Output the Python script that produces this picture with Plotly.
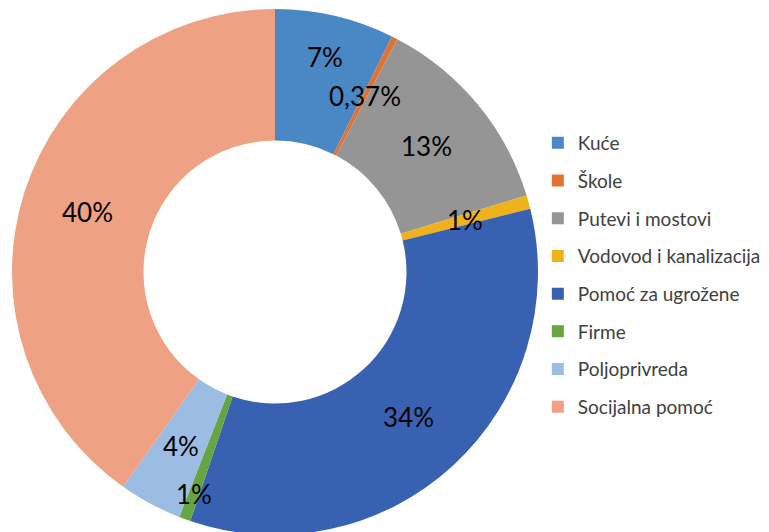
import math
import plotly.graph_objects as go

categories = ["Kuće", "Škole", "Putevi i mostovi", "Vodovod i kanalizacija",
              "Pomoć za ugrožene", "Firme", "Poljoprivreda", "Socijalna pomoć"]
values = [7.33, 0.37, 12.6, 0.84, 34.08, 0.71, 3.87, 40.2]
value_labels = ["7%", "0,37%", "13%", "1%", "34%", "1%", "4%", "40%"]

# style
colors = ["#4A87C5", "#E07332", "#959595", "#F0B21A",
          "#3961B2", "#67A542", "#9BBDE3", "#EFA183"]
label_ring_pos = [0.68, 0.5, 0.5, 0.5, 0.5, 0.8, 0.5, 0.5]  # 0 = inner edge, 1 = outer edge
HOLE = 0.5
W, H = 769, 532
DOM_X = [0.0052, 0.6892]
DOM_Y = [0.0094, 0.9981]

fig = go.Figure()
fig.add_trace(go.Pie(
    labels=categories, values=values,
    textinfo="none",
    marker=dict(colors=colors, line=dict(width=0)),
    hole=HOLE, sort=False, direction="clockwise", rotation=0,
    showlegend=False, hoverinfo="label+percent",
    domain=dict(x=DOM_X, y=DOM_Y),
))

for name, col in zip(categories, colors):
    fig.add_trace(go.Scatter(
        x=[None], y=[None], mode="markers", name=name, legendgroup=name,
        marker=dict(symbol="square", size=10, color=col),
    ))

# data labels placed inside the ring, at each slice's mid angle
cx = (DOM_X[0] + DOM_X[1]) / 2
cy = (DOM_Y[0] + DOM_Y[1]) / 2
r_out = min((DOM_X[1] - DOM_X[0]) * W, (DOM_Y[1] - DOM_Y[0]) * H) / 2
r_in = r_out * HOLE
total = sum(values)
cum = 0.0
annotations = []
for v, txt, f in zip(values, value_labels, label_ring_pos):
    mid = (cum + v / 2) / total * 2 * math.pi
    cum += v
    rho = r_in + f * (r_out - r_in)
    annotations.append(dict(
        x=cx + rho * math.sin(mid) / W, y=cy + rho * math.cos(mid) / H,
        xref="paper", yref="paper", text=txt, showarrow=False,
        xanchor="center", yanchor="middle",
        font=dict(family="Lato, sans-serif", size=26, color="#000000"),
    ))

fig.update_layout(
    width=W, height=H,
    margin=dict(l=0, r=0, t=0, b=0),
    paper_bgcolor="white", plot_bgcolor="white",
    xaxis=dict(visible=False), yaxis=dict(visible=False),
    annotations=annotations,
    legend=dict(x=0.689, y=0.782, xanchor="left", yanchor="top",
                font=dict(family="Lato, sans-serif", size=19, color="#404040"),
                tracegroupgap=10, itemsizing="constant"),
)

fig.write_html("out.html")
